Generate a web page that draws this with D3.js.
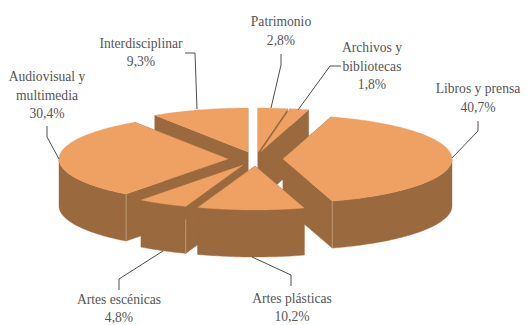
<!DOCTYPE html>
<html>
<head>
<meta charset="utf-8">
<script src="https://cdn.jsdelivr.net/npm/d3@7/dist/d3.min.js"></script>
<style>
html,body{margin:0;padding:0;background:#fff;overflow:hidden}
svg{display:block}
text{font-family:"Liberation Serif",serif;font-size:13.6px;fill:#555;text-anchor:middle}
</style>
</head>
<body>
<svg id="chart" width="527" height="325"></svg>
<script>
// Data, clockwise from the top of the pie
const categories = ["Patrimonio","Archivos y bibliotecas","Libros y prensa","Artes plásticas","Artes escénicas","Audiovisual y multimedia","Interdisciplinar"];
const shares = [2.8,1.8,40.7,10.2,4.8,30.4,9.3];
const shareLabels = ["2,8%","1,8%","40,7%","10,2%","4,8%","30,4%","9,3%"];
const labelLines = [["Patrimonio"],["Archivos y","bibliotecas"],["Libros y prensa"],["Artes plásticas"],["Artes escénicas"],["Audiovisual y","multimedia"],["Interdisciplinar"]];

// Layout
const rx = 169, ry = 44, depth = 47;
const topColor = "#EEA162", sideColor = "#9A693D", seamColor = "#C9A27E";
const apexes = [[258,152],[260.5,152],[283,159],[255,166],[243,165],[228,159],[248,152]];
const labelCenters = [[281,26],[372,52],[478,93],[292,302.5],[119,303.5],[47,81],[141,47.5]];
const leaders = [
  [[281,54],[281,65],[271,108]],
  [[341,66],[330,66],[298,110]],
  [[478,121],[478,131],[452,158]],
  [[291,286],[291,275],[252,257]],
  [[119,290],[119,279],[163,251]],
  [[47,126],[47,137],[59,159]],
  [[185,53],[195,53],[197,109]]
];
const lineGap = 18.5;
const drawOrder = [6,0,1,5,2,4,3];
// slice index, which cut edge, and how far below the top face the pale seam begins
const seams = [[5,"startAngle",0],[4,"startAngle",13],[2,"endAngle",0]];

const svg = d3.select("#chart");
const arcs = d3.pie().sort(null).value(d => d)(shares);
const line = d3.line();

function pt(i, t, dz = 0) {
  return [apexes[i][0] + rx * Math.sin(t), apexes[i][1] - ry * Math.cos(t) + dz];
}
function rim(i, a, b, dz) {
  const n = Math.max(2, Math.ceil((b - a) / 0.02));
  return d3.range(n + 1).map(k => pt(i, a + (b - a) * k / n, dz));
}

const marks = svg.append("g");
drawOrder.forEach(i => {
  const {startAngle: a, endAngle: b} = arcs[i];
  const g = marks.append("g").attr("class", "slice");
  const ap = apexes[i];
  [pt(i, a), pt(i, b)].forEach(p => {
    g.append("path")
      .attr("d", line([ap, p, [p[0], p[1] + depth], [ap[0], ap[1] + depth]]) + "Z")
      .attr("fill", sideColor).attr("stroke", sideColor).attr("stroke-width", 0.4);
  });
  const fa = Math.max(a, Math.PI / 2), fb = Math.min(b, 3 * Math.PI / 2);
  if (fb > fa) {
    const top = rim(i, fa, fb, 0), bottom = rim(i, fa, fb, depth).reverse();
    g.append("path").attr("d", line(top.concat(bottom)) + "Z")
      .attr("fill", sideColor).attr("stroke", sideColor).attr("stroke-width", 0.4);
    seams.filter(s => s[0] === i).forEach(s => {
      const p = pt(i, arcs[i][s[1]]);
      g.append("line").attr("x1", p[0]).attr("y1", p[1] + s[2]).attr("x2", p[0]).attr("y2", p[1] + depth)
        .attr("stroke", seamColor).attr("stroke-width", 0.8);
    });
  }
  g.append("path").attr("d", line([ap].concat(rim(i, a, b, 0))) + "Z")
    .attr("fill", topColor).attr("stroke", topColor).attr("stroke-width", 0.3);
});

svg.append("g").selectAll("path").data(leaders).join("path")
  .attr("d", d => line(d)).attr("fill", "none").attr("stroke", "#3a3a3a").attr("stroke-width", 0.9);

const labels = svg.append("g");
categories.forEach((c, i) => {
  const lines = labelLines[i].concat(shareLabels[i]);
  const t = labels.append("text").attr("aria-label", c);
  lines.forEach((s, k) => {
    t.append("tspan").attr("x", labelCenters[i][0]).attr("y", labelCenters[i][1] + k * lineGap).text(s);
  });
});
</script>
</body>
</html>
